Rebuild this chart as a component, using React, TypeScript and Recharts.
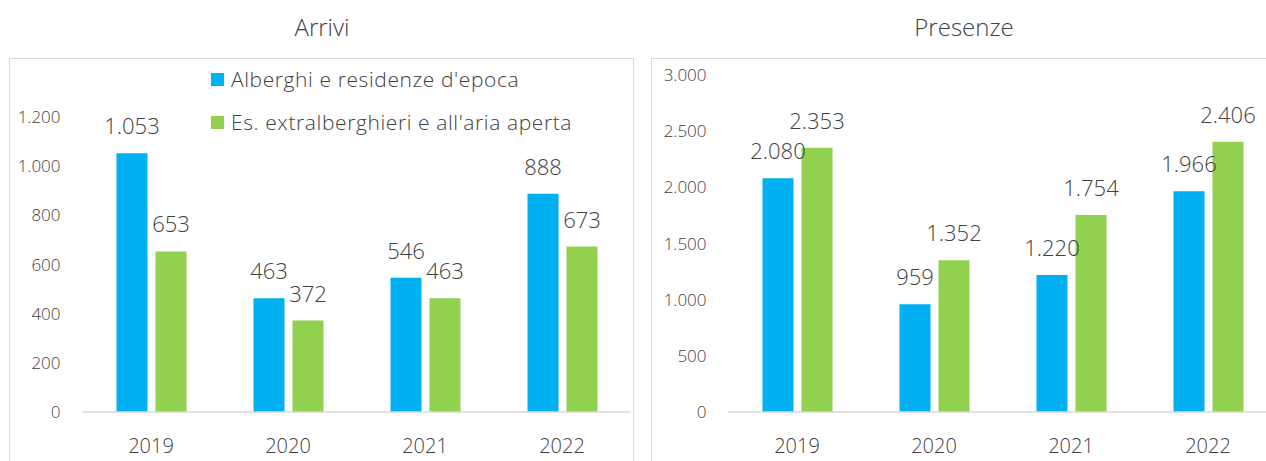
import React from 'react';
import { BarChart, Bar, XAxis, YAxis, LabelList, Legend } from 'recharts';

const years = ['2019', '2020', '2021', '2022'];
const arriviAlberghi = [1053, 463, 546, 888];
const arriviExtra = [653, 372, 463, 673];
const presenzeAlberghi = [2080, 959, 1220, 1966];
const presenzeExtra = [2353, 1352, 1754, 2406];
const arriviTicks = [0, 200, 400, 600, 800, 1000, 1200];
const presenzeTicks = [0, 500, 1000, 1500, 2000, 2500, 3000];
const seriesNames = ["Alberghi e residenze d'epoca", "Es. extralberghieri e all'aria aperta"];
const titles = ['Arrivi', 'Presenze'];

const colors = ['#00B0F0', '#92D050'];
const FONT = "'Open Sans', 'Segoe UI', sans-serif";
const TXT = '#404040';

const fmt = (v: any) => String(v).replace(/\B(?=(\d{3})+(?!\d))/g, '.');

const arriviData = years.map((y, i) => ({ year: y, alberghi: arriviAlberghi[i], extra: arriviExtra[i] }));
const presenzeData = years.map((y, i) => ({ year: y, alberghi: presenzeAlberghi[i], extra: presenzeExtra[i] }));

const tickStyle = { fill: TXT, fontSize: 17, fontFamily: FONT, fontWeight: 300 };
const catStyle = { fill: TXT, fontSize: 20, fontFamily: FONT, fontWeight: 300 };
const labelStyle = { fill: TXT, fontSize: 22, fontFamily: FONT, fontWeight: 300 };

const renderLegend = () => (
  <div style={{ fontFamily: FONT, fontWeight: 300, fontSize: 21, letterSpacing: 0.6, color: TXT }}>
    {seriesNames.map((n, i) => (
      <div key={n} style={{ display: 'flex', alignItems: 'center', height: 43, whiteSpace: 'nowrap' }}>
        <span style={{ display: 'inline-block', width: 13, height: 13, background: colors[i], marginRight: 7 }} />
        {n}
      </div>
    ))}
  </div>
);

function Chart(props: {
  data: any[]; ticks: number[]; max: number; width: number; top: number; right: number; yw: number; legend?: boolean;
}) {
  const { data, ticks, max, width, top, right, yw, legend } = props;
  return (
    <BarChart
      width={width}
      height={461}
      data={data}
      margin={{ top, right, bottom: 19, left: 0 }}
      barSize={31}
      barGap={8}
    >
      <XAxis
        dataKey="year"
        height={30}
        tickLine={false}
        tickSize={0}
        tickMargin={27}
        axisLine={{ stroke: '#D9D9D9', strokeWidth: 1.5 }}
        tick={catStyle}
      />
      <YAxis
        width={yw}
        domain={[0, max]}
        ticks={ticks}
        interval={0}
        axisLine={false}
        tickLine={false}
        tickSize={0}
        tickMargin={22}
        tickFormatter={fmt}
        tick={tickStyle}
      />
      {legend && (
        <Legend
          layout="vertical"
          align="center"
          verticalAlign="middle"
          content={renderLegend}
          wrapperStyle={{ position: 'absolute', left: 211, top: 57.5, width: 420, height: 86 }}
        />
      )}
      <Bar dataKey="alberghi" name={seriesNames[0]} fill={colors[0]} isAnimationActive={false}>
        <LabelList dataKey="alberghi" position="top" offset={19} formatter={fmt} style={labelStyle} />
      </Bar>
      <Bar dataKey="extra" name={seriesNames[1]} fill={colors[1]} isAnimationActive={false}>
        <LabelList dataKey="extra" position="top" offset={19} formatter={fmt} style={labelStyle} />
      </Bar>
    </BarChart>
  );
}

export default function App() {
  return (
    <div style={{ position: 'absolute', left: 0, top: 0, width: 1266, height: 461, overflow: 'hidden', background: '#fff' }}>
      <div style={{ position: 'absolute', left: 9, top: 58, width: 625, height: 500, border: '1.5px solid #D9D9D9', boxSizing: 'border-box' }} />
      <div style={{ position: 'absolute', left: 651, top: 58, width: 700, height: 500, border: '1.5px solid #D9D9D9', boxSizing: 'border-box' }} />
      <div style={{ position: 'absolute', left: 222, width: 200, top: 10, textAlign: 'center', fontFamily: FONT, fontWeight: 300, fontSize: 24, color: TXT }}>{titles[0]}</div>
      <div style={{ position: 'absolute', left: 864, width: 200, top: 10, textAlign: 'center', fontFamily: FONT, fontWeight: 300, fontSize: 24, color: TXT }}>{titles[1]}</div>
      <div style={{ position: 'absolute', left: 0, top: 0 }}>
        <Chart data={arriviData} ticks={arriviTicks} max={1200} width={640} top={117} right={9.5} yw={82.5} legend />
      </div>
      <div style={{ position: 'absolute', left: 640, top: 0 }}>
        <Chart data={presenzeData} ticks={presenzeTicks} max={3000} width={650} top={75} right={13.5} yw={88.5} />
      </div>
    </div>
  );
}
